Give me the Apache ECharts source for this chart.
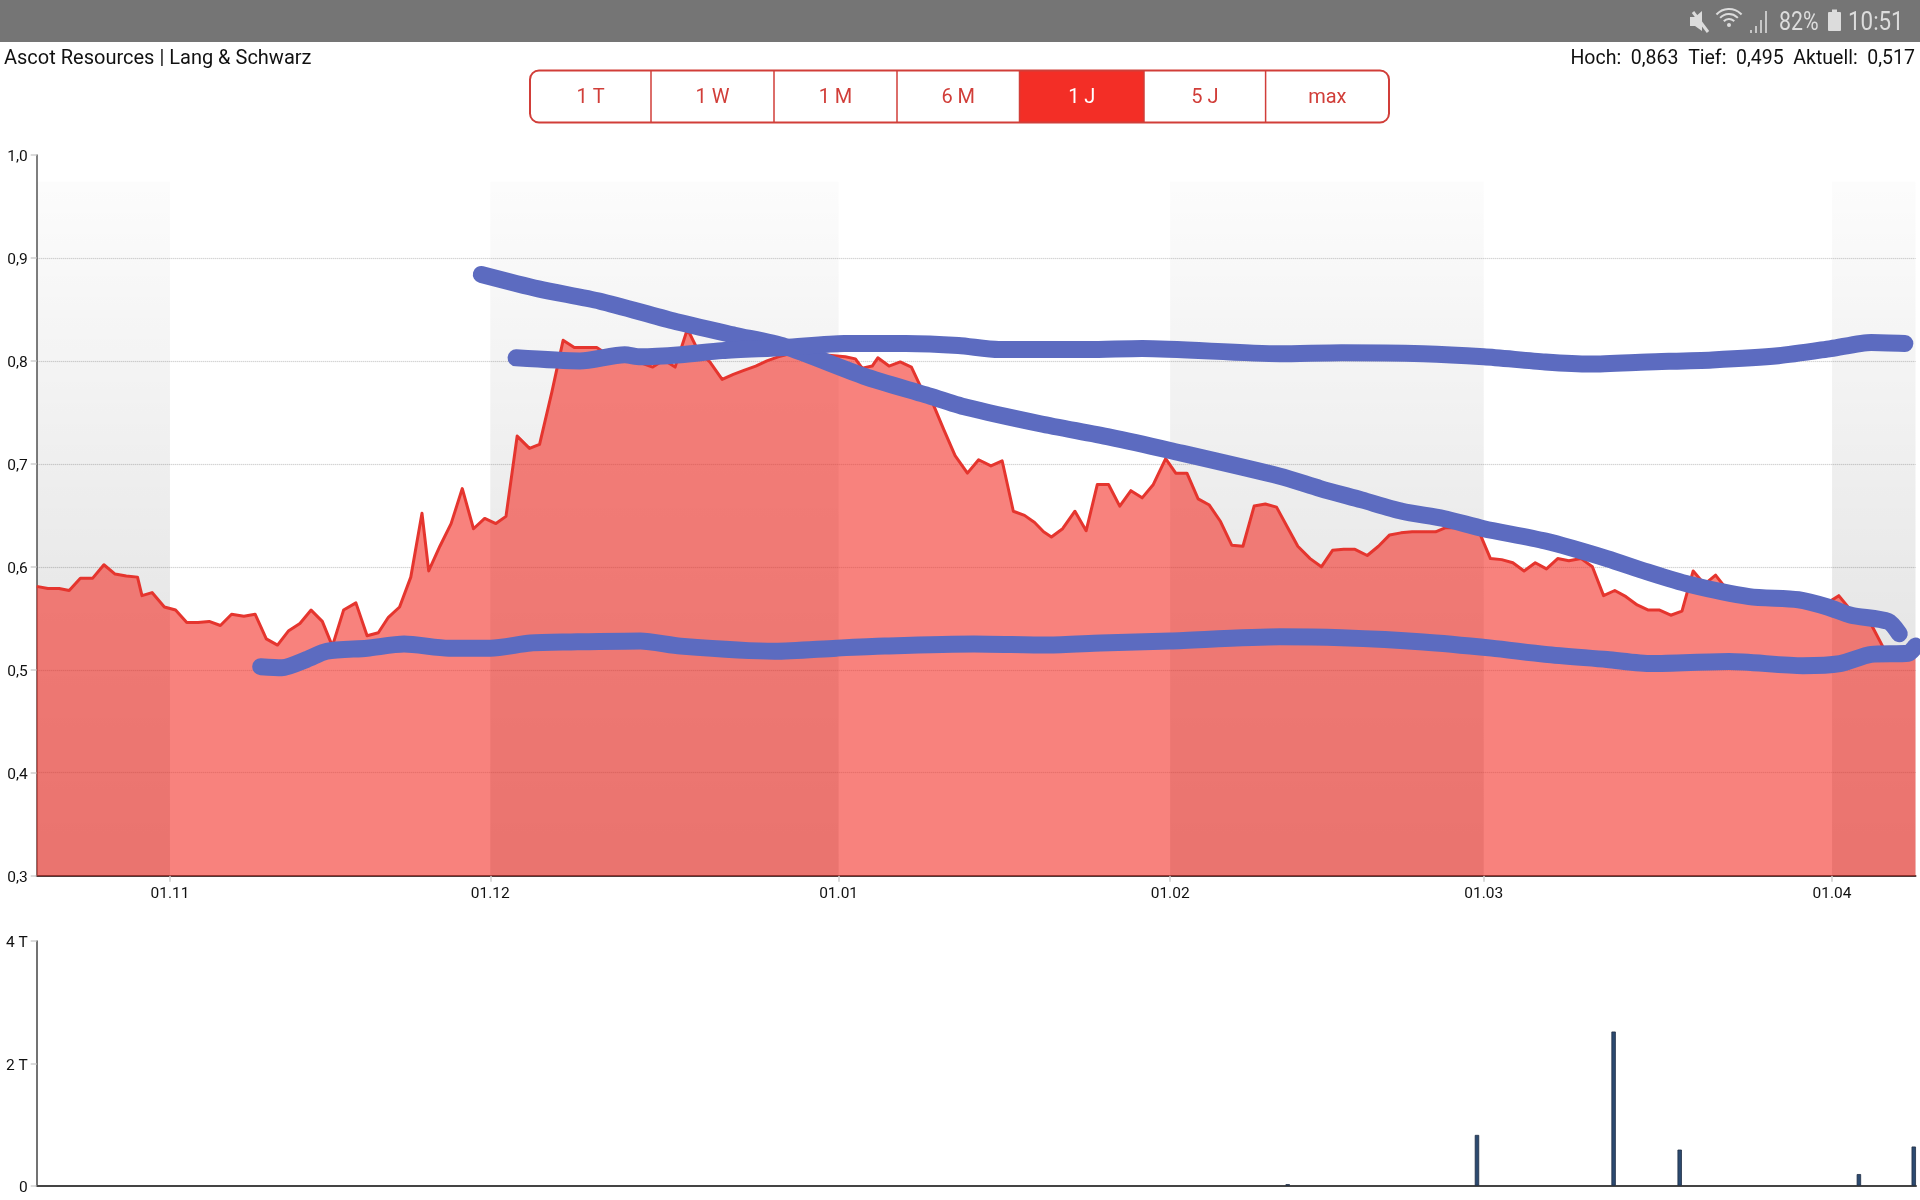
<!DOCTYPE html>
<html><head><meta charset="utf-8">
<style>html,body{margin:0;padding:0;background:#fff}#c{width:1920px;height:1200px}</style>
<script src="https://cdn.jsdelivr.net/npm/echarts@6/dist/echarts.min.js"></script>
</head><body><div id="c"></div>
<script>
const FONT = 'Roboto';
// x values are trading sessions counted from the left edge of the ordinal axis
const sessions = [0,1,2,2.9,3.9,5,6,7,8,9,9.4,10.3,11.4,12.4,13.4,14.4,15.4,16.4,17.4,18.5,19.5,20.5,21.5,22.5,23.5,24.5,25.5,26.4,27.4,28.5,29.5,30.5,31.4,32.4,33.4,34.4,35,36,37,38,39,40,41,41.9,42.9,44,44.9,46,47,48,49,50,51,52,53,54,55,56,57,58.1,59.1,60.1,61.2,62.2,63.2,64.2,65.2,66.2,67.2,68.2,69.2,70.2,71.2,72.2,73.1,73.7,74.6,75.1,76.1,77.1,78.1,79,80,81,82,83.1,84.1,85.2,86.2,87.2,88.2,89.1,89.9,90.6,91.6,92.7,93.7,94.7,95.7,96.7,97.7,98.7,99.7,100.8,101.7,102.7,103.7,104.7,105.7,106.7,107.7,108.7,109.7,110.7,111.7,112.6,113.7,114.7,115.7,116.7,117.7,118.8,119.8,120.8,121.8,122.8,123.8,124.9,125.8,126.7,127.8,128.9,129.8,130.8,131.8,132.8,133.8,134.8,135.8,136.8,137.9,138.9,139.9,140.9,141.9,142.9,143.9,144.9,145.9,146.9,147.9,148.9,149.9,150.9,151.9,152.9,153.9,154.9,155.9,156.9,157.9,158.9,159.9,160.9,161.8,162.9,163.8,164.9,165.9,166.9,167.75];
const prices = [.581,.579,.579,.577,.589,.589,.602,.593,.591,.590,.572,.575,.561,.558,.546,.546,.547,.543,.554,.552,.554,.530,.524,.538,.545,.558,.547,.523,.558,.565,.533,.536,.551,.561,.590,.652,.596,.620,.642,.676,.637,.647,.642,.649,.727,.715,.719,.770,.820,.813,.813,.813,.806,.803,.802,.798,.794,.801,.794,.831,.809,.799,.782,.787,.791,.795,.800,.804,.807,.806,.806,.806,.805,.804,.802,.793,.795,.803,.795,.799,.794,.773,.759,.733,.708,.691,.704,.698,.703,.654,.650,.643,.634,.629,.637,.654,.635,.680,.680,.659,.674,.667,.680,.705,.691,.691,.666,.660,.644,.621,.620,.659,.661,.658,.638,.620,.608,.600,.616,.617,.617,.611,.620,.631,.633,.634,.634,.634,.638,.638,.636,.631,.608,.607,.604,.596,.604,.598,.608,.606,.608,.600,.572,.577,.571,.563,.558,.558,.553,.557,.596,.583,.592,.578,.573,.571,.571,.570,.569,.567,.565,.562,.565,.572,.560,.550,.544,.521,.516,.516,.517];
const monthTicks = [11.9,40.5,71.6,101.2,129.2,160.3];
const monthLabels = ['01.11','01.12','01.01','01.02','01.03','01.04'];
const bandStarts = [0,40.5,101.2,160.3];
const bandEnds = [11.9,71.6,129.2,167.75];
const volumeSessions = [111.7,128.6,140.8,146.7,162.7,167.6];
const volumeValues = [.025,.83,2.52,.59,.19,.64];
const downX = [39.7,44.8,50.3,56.8,62.3,66.8,73.9,79.4,83,89.6,95.8,101.2,111,114.6,118.3,121.9,125.6,129.2,134.7,140.2,143.8,147.5,152.9,157.3,159.9,162,165.3,166.3];
const downY = [.884,.870,.858,.839,.825,.814,.785,.767,.755,.739,.726,.713,.688,.676,.665,.654,.647,.637,.625,.608,.595,.583,.571,.568,.561,.553,.547,.535];
const resistX = [42.8,48.5,52.5,53.9,57.5,61.2,66.8,72.1,77.6,82.3,85.9,93.9,98.7,111,116.5,123.8,129.2,134.7,138.7,143.8,149.6,155.5,160.2,163.8,166.8];
const resistY = [.803,.800,.806,.804,.806,.810,.813,.817,.817,.815,.811,.811,.812,.807,.808,.807,.804,.799,.797,.799,.801,.805,.812,.818,.817];
const supportX = [20,21.9,24.1,25.9,29.5,32.8,36.8,40.5,44.1,47.7,53.9,57.5,65.9,71.4,75.7,83.7,90.3,95,101.2,111,116.5,123.8,129.9,134.7,140.2,144.2,151.1,157.7,161,163.8,167.1,167.75];
const supportY = [.503,.502,.510,.518,.521,.525,.521,.521,.526,.527,.528,.523,.518,.521,.523,.525,.524,.526,.528,.532,.531,.527,.521,.515,.510,.506,.508,.504,.506,.515,.516,.523];
const rangeLabels = ['1 T','1 W','1 M','6 M','1 J','5 J','max'];
const rangeEdges = [530,651,774,897,1019.5,1144,1265.6,1389];
const activeRange = 4;
const headerLeft = 'Ascot Resources | Lang & Schwarz';
const headerRight = 'Hoch:  0,863  Tief:  0,495  Aktuell:  0,517';

const zip = (a, b) => a.map((x, i) => [x, b[i]]);
const RED = '#e5352e', BTN = '#d13e39', BLUE = '#5c6bc0', STAT = '#dcdcdc';
const graphic = [];
graphic.push({type:'rect',shape:{x:0,y:0,width:1920,height:42},style:{fill:'#757575'},z:100});
const txt = (t,x,y,size,fill,align,sx) => ({type:'text',x:x,y:y,scaleX:sx||1,originX:0,style:{text:t,font:size+'px '+FONT,fill:fill,align:align||'left',verticalAlign:'middle'},z:101});
graphic.push(txt(headerLeft,4,59,20,'#111'));
graphic.push(txt(headerRight,1915,59,19.5,'#111','right'));
graphic.push(txt('82%',1779,23,26,STAT,'left',.82));
graphic.push(txt('10:51',1848,23,26,STAT,'left',.86));
// battery
graphic.push({type:'rect',shape:{x:1828,y:12,width:13,height:19,r:1},style:{fill:STAT},z:101});
graphic.push({type:'rect',shape:{x:1832,y:9.5,width:5,height:3},style:{fill:STAT},z:101});
// signal bars
[[1750,30,2,3],[1755,26,2,7],[1760,20,2,13],[1765,11,2,22]].forEach(b=>graphic.push({type:'rect',shape:{x:b[0],y:b[1],width:b[2],height:b[3]},style:{fill:STAT,opacity:.8},z:101}));
// wifi
[[7],[12],[17]].forEach(r=>graphic.push({type:'arc',shape:{cx:1729,cy:26,r:r[0],startAngle:-2.4,endAngle:-.74},style:{stroke:STAT,lineWidth:2,fill:null},z:101}));
graphic.push({type:'circle',shape:{cx:1729,cy:25,r:2},style:{fill:STAT},z:101});
// mute
graphic.push({type:'polygon',shape:{points:[[1690,17],[1695,17],[1702,11],[1702,31],[1695,26],[1690,26]]},style:{fill:STAT},z:101});
graphic.push({type:'line',shape:{x1:1693,y1:12,x2:1708,y2:32},style:{stroke:STAT,lineWidth:3},z:101});
// range buttons
graphic.push({type:'rect',shape:{x:rangeEdges[activeRange],y:70.5,width:rangeEdges[activeRange+1]-rangeEdges[activeRange],height:52},style:{fill:'#f32e26'},z:101});
graphic.push({type:'rect',shape:{x:530,y:70.5,width:859,height:52,r:9},style:{fill:null,stroke:BTN,lineWidth:2},z:102});
for (let i=1;i<rangeEdges.length-1;i++) graphic.push({type:'line',shape:{x1:rangeEdges[i],y1:71,x2:rangeEdges[i],y2:122},style:{stroke:BTN,lineWidth:1.5},z:102});
rangeLabels.forEach((l,i)=>graphic.push({type:'text',x:(rangeEdges[i]+rangeEdges[i+1])/2,y:98,style:{text:l,font:'20px '+FONT,fill:i===activeRange?'#fff':BTN,align:'center',verticalAlign:'middle'},z:103}));

const labelStyle = {fontFamily:FONT,fontSize:15.5,color:'#111'};
const tick = {show:true,length:6,lineStyle:{color:'#cfcfcf',width:1.5}};
const blue = (name,x,y) => ({name:name,type:'line',xAxisIndex:0,yAxisIndex:0,data:zip(x,y),showSymbol:false,symbol:'none',clip:false,silent:true,z:5,smooth:.25,lineStyle:{color:BLUE,width:17,cap:'round',join:'round',opacity:1}});
const gradient = {type:'linear',x:0,y:0,x2:0,y2:1,colorStops:[{offset:0,color:'rgba(0,0,0,0.012)'},{offset:1,color:'rgba(0,0,0,0.14)'}]};

const option = {
  animation:false,
  backgroundColor:'#fff',
  graphic:graphic,
  grid:[
    {left:36.7,top:155,width:1878.8,height:720.7,containLabel:false},
    {left:36.7,top:941,width:1879.3,height:244.7,containLabel:false}
  ],
  xAxis:[
    {type:'value',gridIndex:0,min:0,max:167.75,splitLine:{show:false},
     axisLine:{show:true,onZero:false,lineStyle:{color:'#4f3a3a',width:2}},
     axisTick:Object.assign({},tick,{customValues:monthTicks}),
     axisLabel:Object.assign({},labelStyle,{customValues:monthTicks,margin:10,hideOverlap:false,formatter:v=>monthLabels[monthTicks.indexOf(v)]||''})},
    {type:'value',gridIndex:1,min:0,max:167.8,splitLine:{show:false},
     axisLine:{show:true,onZero:false,lineStyle:{color:'#444',width:2}},axisTick:{show:false},axisLabel:{show:false}}
  ],
  yAxis:[
    {type:'value',gridIndex:0,min:.3,max:1,interval:.1,
     axisLine:{show:true,lineStyle:{color:'#555',width:1.5}},axisTick:tick,
     axisLabel:Object.assign({},labelStyle,{margin:9,verticalAlign:'top',lineHeight:5,formatter:v=>v.toFixed(1).replace('.',',')}),
     splitLine:{show:true,showMinLine:false,showMaxLine:false,lineStyle:{color:'#c4c4c4',width:1.2,type:[1,1]}}},
    {type:'value',gridIndex:1,min:0,max:4,interval:2,
     axisLine:{show:true,lineStyle:{color:'#444',width:1.5}},axisTick:tick,
     axisLabel:Object.assign({},labelStyle,{margin:9,verticalAlign:'top',lineHeight:5,formatter:v=>v===0?'0':v+' T'}),
     splitLine:{show:false}}
  ],
  series:[
    {name:'bands',type:'line',xAxisIndex:0,yAxisIndex:0,data:[],z:1,silent:true,
     markArea:{silent:true,itemStyle:{color:gradient,opacity:1},
       data:bandStarts.map((s,i)=>[{xAxis:s,yAxis:.974},{xAxis:bandEnds[i],yAxis:.3}])}},
    {name:'Kurs',type:'line',xAxisIndex:0,yAxisIndex:0,data:zip(sessions,prices),showSymbol:false,symbol:'none',z:3,
     lineStyle:{color:RED,width:3,join:'round'},
     areaStyle:{color:'rgba(243,46,38,0.6)',opacity:1,origin:'start'}},
    blue('Abwärtstrend',downX,downY),
    blue('Widerstand',resistX,resistY),
    blue('Unterstützung',supportX,supportY),
    {name:'Volumen',type:'bar',xAxisIndex:1,yAxisIndex:1,data:zip(volumeSessions,volumeValues),barWidth:4.4,
     itemStyle:{color:'#2c4a70',borderColor:'#1f2d44',borderWidth:.8}}
  ]
};
echarts.init(document.getElementById('c'),null,{renderer:'canvas'}).setOption(option);
</script></body></html>
